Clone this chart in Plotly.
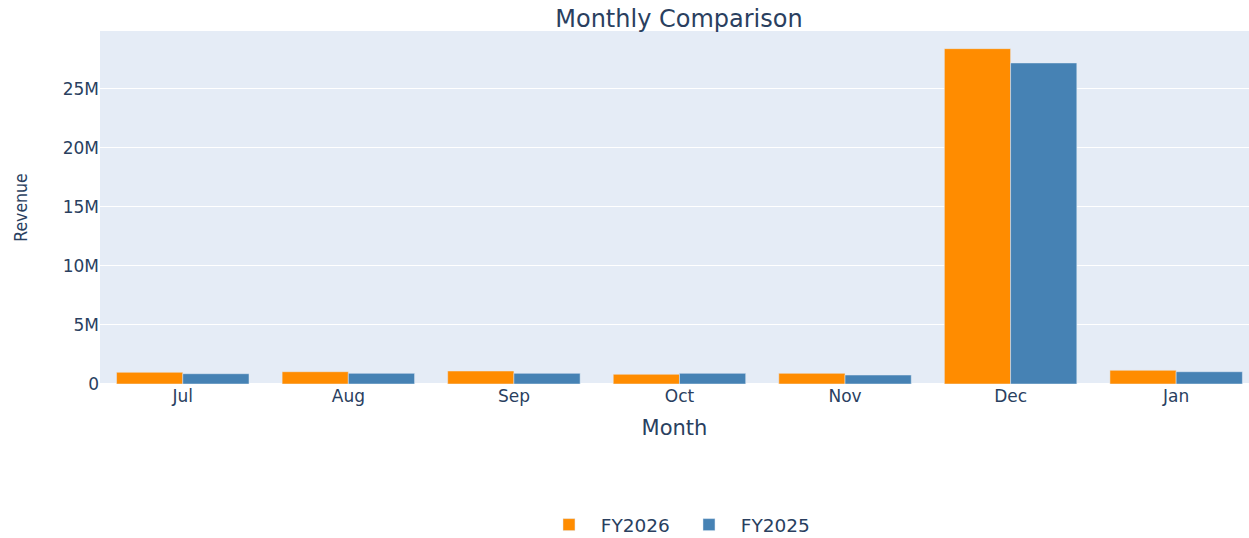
import plotly.graph_objects as go

# Monthly revenue, fiscal year comparison
months = ["Jul", "Aug", "Sep", "Oct", "Nov", "Dec", "Jan"]
fy2026 = [990_000, 1_040_000, 1_100_000, 820_000, 900_000, 28_390_000, 1_160_000]
fy2025 = [870_000, 900_000, 900_000, 900_000, 760_000, 27_180_000, 1_040_000]
series_names = ["FY2026", "FY2025"]

FONT = "DejaVu Sans, Verdana, sans-serif"
INK = "#2a3f5f"
PAD = "\u00a0\u00a0"  # extra room between legend swatch and label

fig = go.Figure()
fig.add_trace(go.Bar(name=PAD + series_names[0], x=months, y=fy2026, marker_color="#FF8C00"))
fig.add_trace(go.Bar(name=PAD + series_names[1], x=months, y=fy2025, marker_color="#4682B4"))

fig.update_layout(
    template="plotly",
    width=1249,
    height=538,
    margin=dict(l=100, r=0, t=31, b=154),
    barmode="group",
    font=dict(family=FONT, color=INK),
    title=dict(
        text="Monthly Comparison",
        font=dict(family=FONT, size=24, color=INK),
        xref="container", x=0.5436, xanchor="center",
        yref="container", y=0.966, yanchor="middle",
    ),
    xaxis=dict(
        title=dict(text="Month", font=dict(family=FONT, size=21, color=INK)),
        tickfont=dict(family=FONT, size=17, color=INK),
        range=[-0.5, 6.44],
    ),
    yaxis=dict(
        title=dict(
            text="Revenue",
            standoff=30,
            font=dict(family="Liberation Sans Narrow, DejaVu Sans Condensed, Open Sans, sans-serif",
                      size=17.5, color=INK),
        ),
        tickfont=dict(family=FONT, size=17, color=INK),
    ),
    legend=dict(
        orientation="h",
        entrywidth=95,
        xref="paper", x=0.5126, xanchor="center",
        yref="container", y=0.024, yanchor="middle",
        font=dict(family=FONT, size=18.5, color=INK),
    ),
)

fig.write_html("out.html")
